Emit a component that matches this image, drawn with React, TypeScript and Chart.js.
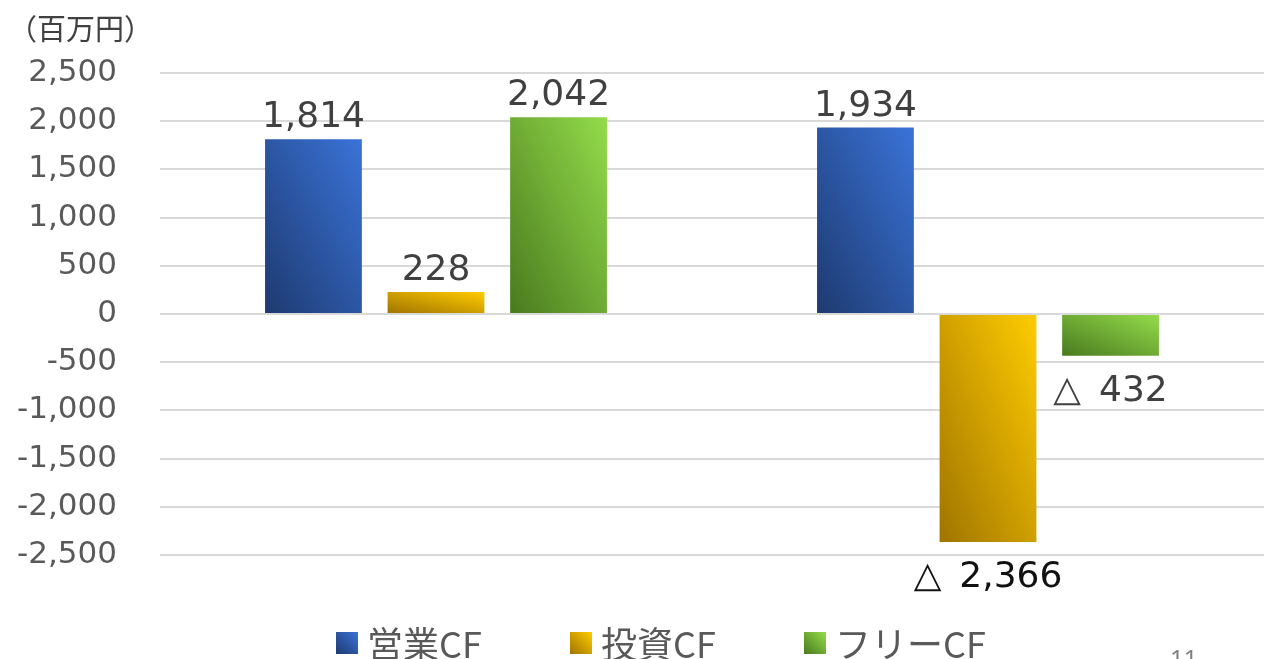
import React, { useEffect, useRef } from 'react';
import { Chart, registerables } from 'chart.js';

Chart.register(...registerables);

// ---- data ----
const categories = ['前期', '当期'];
const seriesNames = ['営業CF', '投資CF', 'フリーCF'];
const operatingCF = [1814, 1934];
const investingCF = [228, -2366];
const freeCF = [2042, -432];
const yTickValues = [-2500, -2000, -1500, -1000, -500, 0, 500, 1000, 1500, 2000, 2500];
const unitLabel = '（百万円）';
const pageNumber = '11';

// ---- styles ----
const gradientStops: [string, string][] = [
  ['#1e3a70', '#3a73d8'],
  ['#a07400', '#ffcc00'],
  ['#497a1e', '#94dc4b'],
];
const legendCss = gradientStops.map(([a, b]) => `linear-gradient(45deg, ${a}, ${b})`);

const fmt = (v: number) => Math.abs(v).toLocaleString('en-US');

const gradientPlugin = {
  id: 'barGradient',
  beforeDatasetsDraw(chart: any) {
    const ctx = chart.ctx as CanvasRenderingContext2D;
    chart.data.datasets.forEach((_ds: any, di: number) => {
      const meta = chart.getDatasetMeta(di);
      meta.data.forEach((el: any) => {
        const { x, y, base, width } = el.getProps(['x', 'y', 'base', 'width'], true);
        const left = x - width / 2;
        const bottom = Math.max(y, base);
        const top = Math.min(y, base);
        const w = width;
        const h = Math.max(bottom - top, 1);
        // diagonal gradient scaled with the shape: isolines parallel to the TL-BR diagonal
        const k = (2 * w * h) / (w * w + h * h);
        const g = ctx.createLinearGradient(left, bottom, left + h * k, bottom - w * k);
        g.addColorStop(0, gradientStops[di][0]);
        g.addColorStop(1, gradientStops[di][1]);
        el.options = Object.assign({}, el.options, { backgroundColor: g });
      });
    });
  },
};

const labelPlugin = {
  id: 'valueLabels',
  afterDatasetsDraw(chart: any) {
    const ctx = chart.ctx as CanvasRenderingContext2D;
    ctx.save();
    ctx.font = '36px "DejaVu Sans"';
    ctx.textAlign = 'center';
    ctx.textBaseline = 'alphabetic';
    chart.data.datasets.forEach((ds: any, di: number) => {
      const meta = chart.getDatasetMeta(di);
      meta.data.forEach((el: any, i: number) => {
        const v = ds.data[i] as number;
        const { x, y } = el.getProps(['x', 'y'], true);
        if (v >= 0) {
          ctx.fillStyle = '#404040';
          ctx.fillText(fmt(v), x, y - 12);
        } else {
          ctx.fillStyle = di === 1 ? '#111111' : '#404040';
          ctx.fillText('△\u2002' + fmt(v), x, y + 45);
        }
      });
    });
    ctx.restore();
  },
};

export default function App() {
  const canvasRef = useRef<HTMLCanvasElement | null>(null);

  useEffect(() => {
    if (!canvasRef.current) return;
    const seriesValues = [operatingCF, investingCF, freeCF];
    const chart = new Chart(canvasRef.current, {
      type: 'bar',
      data: {
        labels: categories,
        datasets: seriesNames.map((name, i) => ({
          label: name,
          data: seriesValues[i],
          backgroundColor: gradientStops[i][1],
          borderWidth: 0,
          barPercentage: 0.79,
          categoryPercentage: 0.666,
        })),
      },
      options: {
        animation: false,
        responsive: false,
        devicePixelRatio: 1,
        layout: { padding: { top: 73, bottom: 104, left: 0, right: 9 } },
        plugins: {
          legend: { display: false },
          tooltip: { enabled: false },
          title: { display: false },
        },
        scales: {
          x: {
            display: false,
            grid: { display: false },
          },
          y: {
            min: -2500,
            max: 2500,
            afterFit: (scale: any) => {
              scale.width = 160;
            },
            afterBuildTicks: (scale: any) => {
              scale.ticks = yTickValues.map((v) => ({ value: v }));
            },
            border: { display: false },
            grid: {
              color: '#d9d9d9',
              lineWidth: 2,
              drawTicks: false,
            },
            ticks: {
              padding: 43,
              color: '#595959',
              font: { family: '"DejaVu Sans"', size: 31 },
              callback: (v: any) => Number(v).toLocaleString('en-US'),
            },
          },
        },
      },
      plugins: [gradientPlugin, labelPlugin],
    });
    return () => chart.destroy();
  }, []);

  return (
    <div
      style={{
        position: 'fixed',
        left: 0,
        top: 0,
        width: 1273,
        height: 659,
        overflow: 'hidden',
        background: '#ffffff',
      }}
    >
      <canvas ref={canvasRef} width={1273} height={659} style={{ position: 'absolute', left: 0, top: 0 }} />
      <div
        style={{
          position: 'absolute',
          left: 8,
          top: 12,
          fontFamily: '"Noto Sans CJK JP"',
          fontSize: 29,
          lineHeight: '30px',
          color: '#404040',
          whiteSpace: 'nowrap',
        }}
      >
        {unitLabel}
      </div>
      <div
        style={{
          position: 'absolute',
          left: 336,
          top: 624,
          display: 'flex',
          whiteSpace: 'nowrap',
        }}
      >
        {seriesNames.map((name, i) => (
          <div key={name} style={{ width: 234, display: 'flex', alignItems: 'flex-start' }}>
            <div style={{ width: 22, height: 22, marginTop: 8, background: legendCss[i] }} />
            <div
              style={{
                marginLeft: 9,
                fontFamily: '"Noto Sans CJK JP"',
                fontSize: 36,
                lineHeight: '36px',
                color: '#595959',
              }}
            >
              {name}
            </div>
          </div>
        ))}
      </div>
      <div
        style={{
          position: 'absolute',
          left: 1170,
          top: 646,
          fontFamily: '"Noto Sans"',
          fontSize: 24,
          lineHeight: '24px',
          color: '#808080',
        }}
      >
        {pageNumber}
      </div>
    </div>
  );
}
